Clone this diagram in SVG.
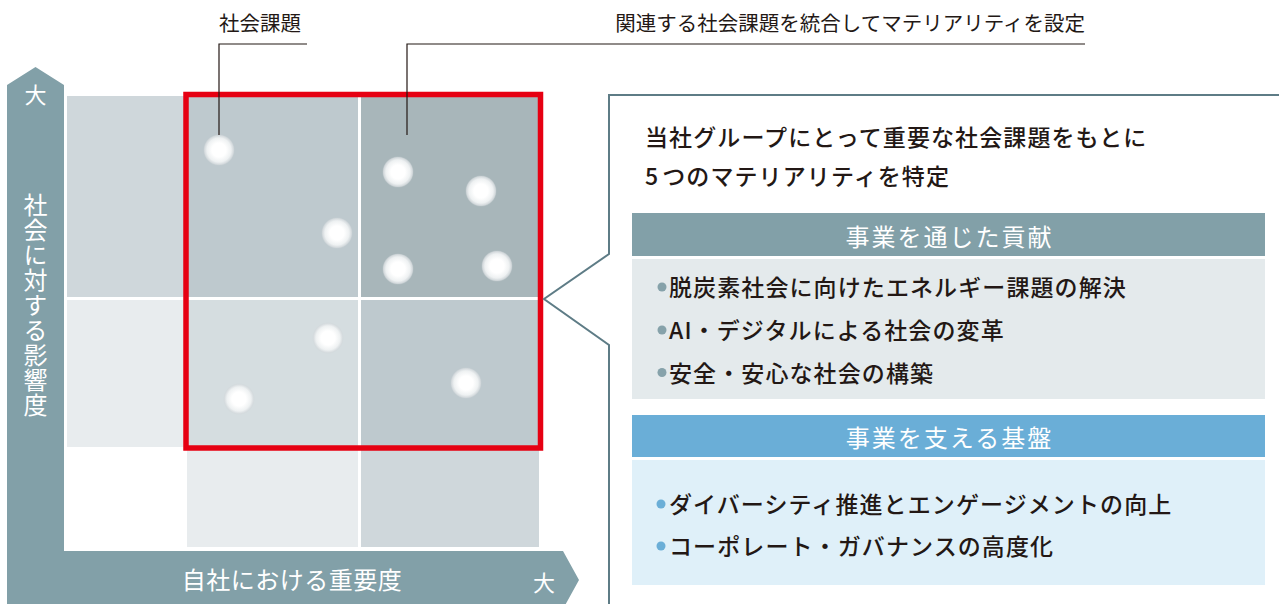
<svg xmlns="http://www.w3.org/2000/svg" width="1279" height="604" viewBox="0 0 1279 604">
  <defs>
    <radialGradient id="bub" cx="50%" cy="50%" r="50%">
      <stop offset="0" stop-color="#ffffff"/>
      <stop offset="0.45" stop-color="#ffffff"/>
      <stop offset="0.78" stop-color="#eef1f2"/>
      <stop offset="0.93" stop-color="#d8dde0" stop-opacity="0.9"/>
      <stop offset="1" stop-color="#d0d6d9" stop-opacity="0.3"/>
    </radialGradient>
  </defs>
  <style>
    text { font-family: "Noto Sans CJK JP", "Noto Sans", sans-serif; }
    .lbl { font-size: 20.5px; fill: #231815; }
    .axis { font-size: 24px; fill: #ffffff; }
    .vaxis { font-size: 24px; fill: #ffffff; writing-mode: vertical-rl; letter-spacing: 1px; }
    .big { font-size: 22px; fill: #ffffff; }
    .title { font-size: 23px; fill: #231815; letter-spacing: 1.1px; font-weight: 500; }
    .item { font-size: 23px; fill: #231815; letter-spacing: 1.1px; font-weight: 500; }
    .head { font-size: 24px; fill: #ffffff; letter-spacing: 2px; text-anchor: middle; }
    .bub { fill: url(#bub); }
    .lead { fill: none; stroke: #231815; stroke-width: 1.2; }
    .callout { fill: none; stroke: #5e7c86; stroke-width: 2; }
  </style>

  <rect width="1279" height="604" fill="#ffffff"/>

  <g id="axes">
    <path d="M7,85 L35.5,67 L64,85 V551 H563 L579,580 L563,609 H7 Z" fill="#82a0a8"/>
    <text class="big" x="35.5" y="103" text-anchor="middle">大</text>
    <text class="vaxis" x="35.5" y="305" text-anchor="middle">社会に対する影響度</text>
    <text class="axis" x="292" y="589" text-anchor="middle" letter-spacing="0.5">自社における重要度</text>
    <text class="big" x="544" y="591" text-anchor="middle">大</text>
  </g>

  <g id="matrix">
    <rect x="67" y="96" width="118" height="201" fill="#cfd7db"/>
    <rect x="67" y="300" width="118" height="147" fill="#e8ecee"/>
    <rect x="187" y="96" width="171" height="201" fill="#bec9ce"/>
    <rect x="361" y="96" width="178" height="201" fill="#a8b6ba"/>
    <rect x="187" y="300" width="171" height="147" fill="#d5dde0"/>
    <rect x="361" y="300" width="178" height="147" fill="#bec9ce"/>
    <rect x="187" y="450" width="171" height="97" fill="#e8ecee"/>
    <rect x="361" y="450" width="178" height="97" fill="#cfd7db"/>
  </g>

  <g id="bubbles">
    <circle class="bub" cx="219" cy="150" r="15.5"/>
    <circle class="bub" cx="337" cy="233" r="15.5"/>
    <circle class="bub" cx="398" cy="172" r="15.5"/>
    <circle class="bub" cx="481" cy="191" r="15.5"/>
    <circle class="bub" cx="398" cy="269" r="15.5"/>
    <circle class="bub" cx="497" cy="266" r="15.5"/>
    <circle class="bub" cx="328" cy="338" r="15.5"/>
    <circle class="bub" cx="239" cy="399" r="15.5"/>
    <circle class="bub" cx="466" cy="383" r="15.5"/>
  </g>

  <g id="materiality-frame">
    <rect x="186" y="94.5" width="354.5" height="353.5" fill="none" stroke="#e60012" stroke-width="5.5"/>
  </g>

  <g id="labels">
    <text class="lbl" x="219" y="31">社会課題</text>
    <text class="lbl" x="1085" y="31" text-anchor="end">関連する社会課題を統合してマテリアリティを設定</text>
  </g>

  <g id="connectors">
    <path class="lead" d="M219,135 V44 H307"/>
    <path class="lead" d="M407,135 V44 H1085"/>
    <path class="callout" d="M1280,95 H609 V254 L544,299 L609,345 V606"/>
  </g>

  <g id="panel-title">
    <text class="title" x="645" y="146">当社グループにとって重要な社会課題をもとに</text>
    <text class="title" x="645" y="185">5<tspan dx="3">つのマテリアリティを特定</tspan></text>
  </g>

  <g id="business-contribution">
    <rect x="632" y="213" width="633" height="43" fill="#82a0a8"/>
    <text class="head" x="949.5" y="246">事業を通じた貢献</text>
    <rect x="632" y="259" width="633" height="140" fill="#e4eaec"/>
    <circle cx="662" cy="287" r="4.5" fill="#86a2aa"/>
    <circle cx="662" cy="330" r="4.5" fill="#86a2aa"/>
    <circle cx="662" cy="372.5" r="4.5" fill="#86a2aa"/>
    <text class="item" x="669" y="296">脱炭素社会に向けたエネルギー課題の解決</text>
    <text class="item" x="669" y="339">AI・デジタルによる社会の変革</text>
    <text class="item" x="669" y="381.5">安全・安心な社会の構築</text>
  </g>

  <g id="business-foundation">
    <rect x="632" y="415" width="633" height="42" fill="#6aaed7"/>
    <text class="head" x="949.5" y="447">事業を支える基盤</text>
    <rect x="632" y="460" width="633" height="125" fill="#dff0f9"/>
    <circle cx="661" cy="504" r="4.5" fill="#6aaed7"/>
    <circle cx="661" cy="546" r="4.5" fill="#6aaed7"/>
    <text class="item" x="669" y="513">ダイバーシティ推進とエンゲージメントの向上</text>
    <text class="item" x="669" y="555">コーポレート・ガバナンスの高度化</text>
  </g>
</svg>
